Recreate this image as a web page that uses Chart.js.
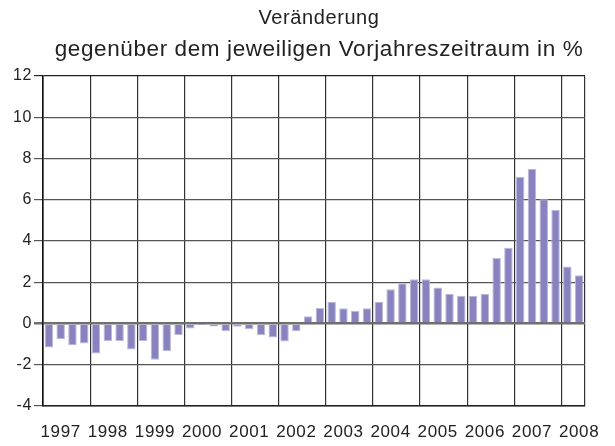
<!DOCTYPE html>
<html>
<head>
<meta charset="utf-8">
<script src="https://cdn.jsdelivr.net/npm/chart.js@4/dist/chart.umd.min.js"></script>
<style>
  html, body { margin: 0; padding: 0; background: #fff; }
  #wrap { width: 615px; height: 446px; }
</style>
</head>
<body>
<div id="wrap"><canvas id="c" width="615" height="446"></canvas></div>
<script>
const titleLines = ['Veränderung', 'gegenüber dem jeweiligen Vorjahreszeitraum in %'];

const quarters = [
  '1997 Q1','1997 Q2','1997 Q3','1997 Q4',
  '1998 Q1','1998 Q2','1998 Q3','1998 Q4',
  '1999 Q1','1999 Q2','1999 Q3','1999 Q4',
  '2000 Q1','2000 Q2','2000 Q3','2000 Q4',
  '2001 Q1','2001 Q2','2001 Q3','2001 Q4',
  '2002 Q1','2002 Q2','2002 Q3','2002 Q4',
  '2003 Q1','2003 Q2','2003 Q3','2003 Q4',
  '2004 Q1','2004 Q2','2004 Q3','2004 Q4',
  '2005 Q1','2005 Q2','2005 Q3','2005 Q4',
  '2006 Q1','2006 Q2','2006 Q3','2006 Q4',
  '2007 Q1','2007 Q2','2007 Q3','2007 Q4',
  '2008 Q1','2008 Q2'
];

const yearLabels = ['1997','1998','1999','2000','2001','2002','2003','2004','2005','2006','2007','2008'];

const changePct = [
  -1.16, -0.76, -1.05, -0.97,
  -1.45, -0.85, -0.85, -1.26,
  -0.85, -1.76, -1.35, -0.56,
  -0.24, -0.02, -0.15, -0.37,
  -0.16, -0.28, -0.57, -0.68,
  -0.87, -0.37,  0.35,  0.75,
   1.05,  0.74,  0.62,  0.74,
   1.05,  1.66,  1.95,  2.15,
   2.15,  1.75,  1.44,  1.34,
   1.34,  1.44,  3.18,  3.67,
   7.10,  7.50,  6.02,  5.50,
   2.76,  2.34
];

const yTicks = [-4, -2, 0, 2, 4, 6, 8, 10, 12];

const FONT = "'Liberation Sans', Arial, Helvetica, sans-serif";

const spacingPlugin = {
  id: 'spacing',
  afterLayout(chart) {
    // nudge the two title lines slightly right, as in the original
    chart.boxes.forEach(b => {
      if (b.options && (b.options.text === titleLines[0] || b.options.text === titleLines[1])) {
        b.left += 5; b.right += 5;
      }
    });
  },
  beforeDraw(chart) { chart.ctx.letterSpacing = '0.6px'; },
  afterDraw(chart) { chart.ctx.letterSpacing = '0px'; }
};

new Chart(document.getElementById('c'), {
  type: 'bar',
  data: {
    labels: quarters,
    datasets: [{
      data: changePct,
      backgroundColor: '#8883bf',
      borderColor: '#bcb8de',
      borderWidth: 1,
      categoryPercentage: 1,
      barPercentage: 0.72
    }]
  },
  options: {
    responsive: false,
    animation: false,
    devicePixelRatio: 1,
    layout: { padding: { left: 0, right: 30, top: 0, bottom: 0 } },
    plugins: {
      legend: { display: false },
      tooltip: { enabled: false },
      title: {
        display: true,
        text: titleLines[0],
        color: '#222',
        fullSize: false,
        font: { family: FONT, size: 20, weight: 'normal' },
        padding: { top: 6, bottom: 6 }
      },
      subtitle: {
        display: true,
        text: titleLines[1],
        color: '#222',
        fullSize: false,
        font: { family: FONT, size: 22.5, weight: 'normal' },
        padding: { top: 0, bottom: 13 }
      }
    },
    scales: {
      x: {
        offset: true,
        grid: {
          offset: true,
          drawTicks: false,
          tickLength: 0,
          color: (c) => (c.index === undefined || c.index % 4 === 0) ? '#333' : 'rgba(0,0,0,0)',
          lineWidth: 1.2
        },
        border: { display: true, color: '#222', width: 1.5 },
        ticks: {
          autoSkip: false,
          maxRotation: 0,
          minRotation: 0,
          padding: 16.5,
          color: '#222',
          font: { family: FONT, size: 17 },
          callback: (v, i) => (i % 4 === 1) ? yearLabels[Math.floor(i / 4)] : ''
        },
        afterFit: (s) => { s.height = 40; }
      },
      y: {
        min: -4,
        max: 12,
        afterBuildTicks: (s) => { s.ticks = yTicks.map(v => ({ value: v })); },
        grid: {
          drawTicks: true,
          tickLength: 9,
          color: (c) => c.tick && c.tick.value === 0 ? '#6e6e6e' : (c.tick && c.tick.value === 12 ? '#222' : '#555'),
          lineWidth: (c) => c.tick && c.tick.value === 0 ? 2.5 : 1.2
        },
        border: { display: true, color: '#111', width: 1.6 },
        ticks: {
          padding: 2,
          color: '#222',
          font: { family: FONT, size: 16 }
        },
        afterFit: (s) => { s.width = 43; }
      }
    }
  },
  plugins: [spacingPlugin]
});
</script>
</body>
</html>
